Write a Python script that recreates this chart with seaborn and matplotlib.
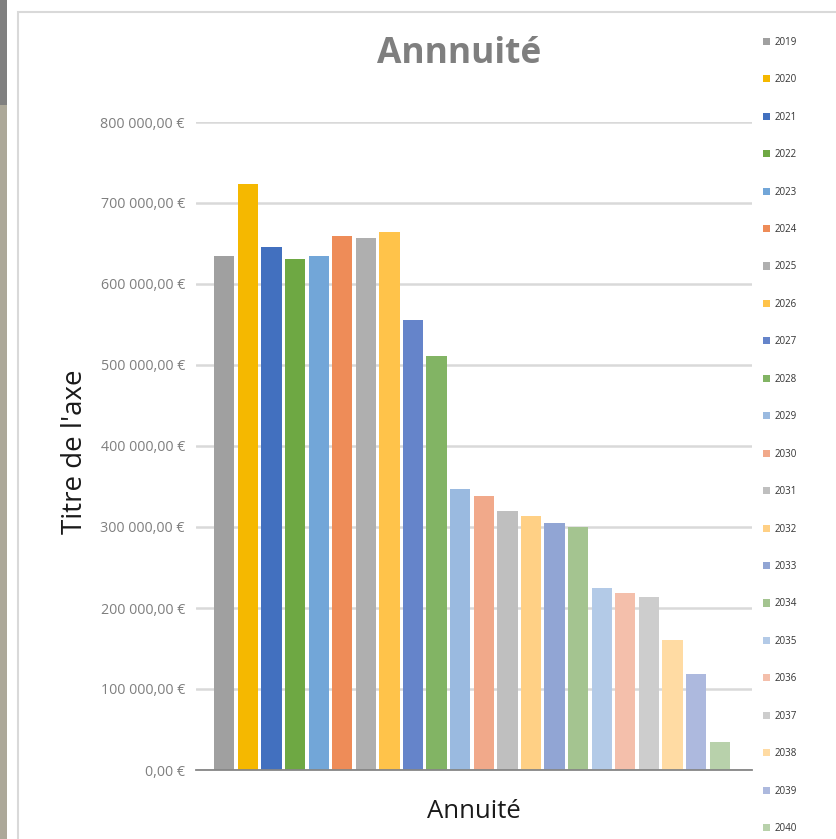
import seaborn as sns
import matplotlib.pyplot as plt
import pandas as pd
from matplotlib.patches import Rectangle
from matplotlib.ticker import FuncFormatter

years = [str(y) for y in range(2019, 2041)]
annuite = [635000, 723500, 645700, 631000, 634600, 659300, 656800, 664200,
           555600, 511100, 346900, 338300, 319800, 313600, 304900, 300000,
           224700, 218500, 213600, 160500, 118500, 34600]
colors = ["#A0A0A0", "#F5B800", "#4270BF", "#6EA843", "#72A6D8", "#EE8C58",
          "#AFAFAF", "#FFC34A", "#6584CA", "#82B464", "#9ABAE0", "#F1A98A",
          "#BFBFBF", "#FFD085", "#91A5D4", "#A4C490", "#B3CAE7", "#F4BFAB",
          "#CDCDCD", "#FFDBA3", "#ADB9DE", "#B8D1AB"]

df = pd.DataFrame({"year": years, "value": annuite})

sns.set_style("white")
plt.rcParams['font.family'] = ['Open Sans', 'DejaVu Sans']

fig = plt.figure(figsize=(8.37, 8.39), dpi=100)
ax = fig.add_axes([196 / 837, 1 - 770 / 839, (752 - 196) / 837, (770 - 122) / 839])

sns.barplot(data=df, x="year", y="value", hue="year", palette=colors,
            saturation=1, width=0.86, linewidth=0, legend=True, ax=ax)

ax.set_ylim(0, 800000)
ax.set_xlim(-1.2, 22.37)
ax.set_yticks(range(0, 800001, 100000))
ax.yaxis.set_major_formatter(FuncFormatter(
    lambda v, p: "0,00 €" if v == 0 else f"{int(v):,}".replace(",", " ") + ",00 €"))
ax.tick_params(axis="y", length=0, pad=8, labelsize=10.3, labelcolor="#7F7F7F")
ax.grid(axis="y", color="#D9D9D9", linewidth=1.8)
ax.set_axisbelow(True)

ax.set_xticks([-1.2, 22.37])
ax.set_xticklabels(["", ""])
ax.tick_params(axis="x", length=8, width=1.3, color="#868686", direction="out")

for s in ["top", "right", "left"]:
    ax.spines[s].set_visible(False)
ax.spines["bottom"].set_color("#868686")
ax.spines["bottom"].set_linewidth(1.3)

ax.set_xlabel("")
ax.set_ylabel("")
fig.text(474 / 837, 1 - 812 / 839, "Annuité", fontsize=18.5, color="#1A1A1A",
         ha="center", va="center")
fig.text(75 / 837, 1 - 452 / 839, "Titre de l'axe", fontsize=20, color="#1A1A1A",
         ha="center", va="center", rotation=90)
fig.text(459 / 837, 1 - 54 / 839, "Annnuité", fontsize=25.5, fontweight="bold",
         color="#7F7F7F", ha="center", va="center")

handles, labels = ax.get_legend_handles_labels()
if ax.get_legend() is not None:
    ax.get_legend().remove()
fig.legend(handles, labels, loc="upper left", bbox_to_anchor=(754 / 837, 1 - 28 / 839),
           frameon=False, fontsize=7, labelspacing=2.72, handlelength=0.75,
           handleheight=0.75, handletextpad=0.45, labelcolor="#333333")

# chart area border and spreadsheet edge
fig.patches.append(Rectangle((18 / 837, -0.01), 1.0, 1 - 12 / 839 + 0.01,
                             transform=fig.transFigure, fill=False,
                             edgecolor="#D9D9D9", linewidth=1.5))
fig.patches.append(Rectangle((0, 0), 7 / 837, 1, transform=fig.transFigure,
                             facecolor="#ACA899", edgecolor="none"))
fig.patches.append(Rectangle((0, 1 - 105 / 839), 7 / 837, 105 / 839,
                             transform=fig.transFigure, facecolor="#808080",
                             edgecolor="none"))

fig.savefig("out.png", dpi=100)
